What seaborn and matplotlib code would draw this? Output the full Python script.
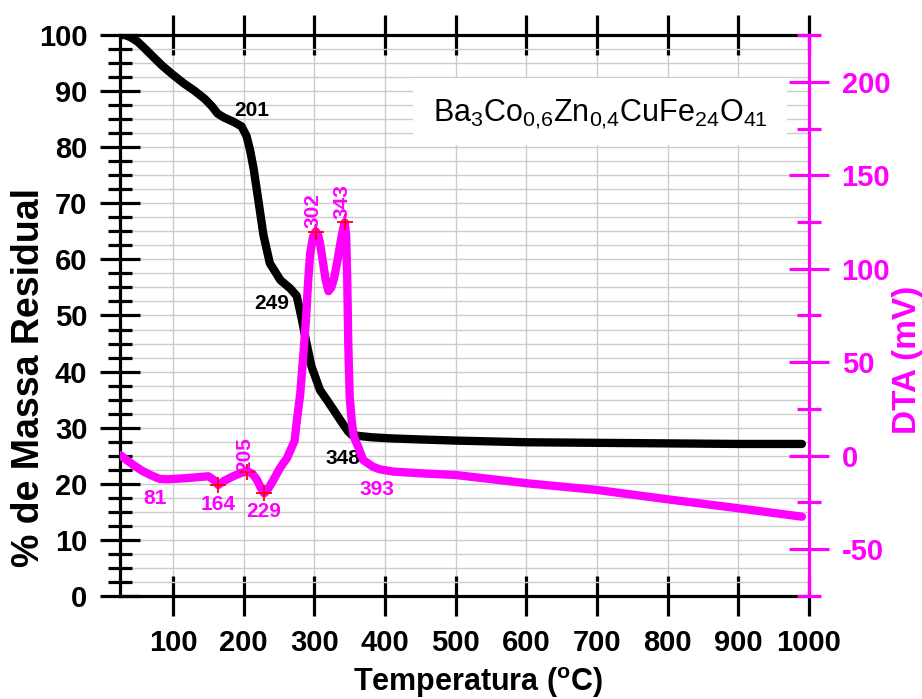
import numpy as np
import pandas as pd
import matplotlib
matplotlib.use("Agg")
import matplotlib.pyplot as plt
from matplotlib.ticker import MultipleLocator, FixedLocator
from matplotlib.patches import Rectangle
import seaborn as sns

# ---------------- data ----------------
tg_temp = [25, 32, 40, 50, 60, 72, 85, 100, 115, 130, 145, 155, 163, 172, 186, 197,
           204, 209, 214, 221, 228, 237, 252, 266, 275, 282, 289, 296, 308, 318, 327,
           337, 343, 348, 353, 365, 380, 407, 450, 500, 600, 700, 800, 900, 990]
tg_mass = [100, 100, 99.6, 98.8, 97.6, 96.1, 94.5, 92.9, 91.4, 90.1, 88.6, 87.3, 86.0,
           85.3, 84.5, 83.7, 82.0, 79.5, 76.2, 70.3, 64.3, 59.3, 56.3, 54.8, 53.5, 49.5,
           45.0, 40.9, 36.7, 34.9, 33.2, 31.3, 30.2, 29.3, 28.7, 28.5, 28.3, 28.1, 27.9,
           27.7, 27.4, 27.3, 27.2, 27.1, 27.1]

dta_temp = [25, 35, 44, 56, 68, 81, 92, 115, 140, 150, 158, 164, 172, 185, 198, 205,
            212, 219, 224, 229, 235, 242, 250, 256, 261, 268, 272, 275, 280, 284, 288,
            291, 294, 298, 302, 305, 308, 312, 316, 320, 324, 328, 333, 337, 340, 343,
            345, 346.5, 348, 350, 353, 356, 362, 369, 383, 393, 412, 450, 500, 600, 700,
            800, 900, 990]
dta_mv = [0.4, -2.5, -5.0, -8.0, -10.3, -12.4, -12.6, -12.1, -11.3, -11.0, -13.0, -15.6,
          -13.5, -11.0, -9.0, -8.5, -9.5, -13.0, -17.0, -20.1, -17.5, -13.0, -7.5, -4.0,
          -1.5, 4.5, 8.0, 18.0, 33.0, 52.0, 72.0, 92.0, 108.0, 117.0, 120.0, 118.5, 113.6,
          104.0, 94.0, 88.0, 90.0, 95.0, 105.0, 114.0, 120.0, 124.8, 118.0, 95.0, 60.0,
          31.6, 18.0, 10.0, 4.8, -2.3, -5.9, -7.3, -8.5, -9.4, -10.3, -14.7, -18.3,
          -23.3, -28.1, -32.6]

peak_temp = [164, 205, 229, 302, 343]
peak_mv = [-15.6, -8.5, -20.0, 119.8, 124.8]

tg_labels = ["201", "249", "348"]
tg_label_pos = [(211.6, 86.6), (239.5, 52.2), (341.0, 24.5)]
dta_labels = ["81", "164", "229", "393"]
dta_label_pos = [(75, -22.8), (164.4, -26.3), (229, -29.9), (388, -18.3)]
dta_vlabels = ["205", "302", "343"]
dta_vlabel_pos = [(202, 0.4), (298.6, 130.9), (338.8, 135.9)]

x_ticks = [100, 200, 300, 400, 500, 600, 700, 800, 900, 1000]
left_ticks = [0, 10, 20, 30, 40, 50, 60, 70, 80, 90, 100]
right_ticks = [-50, 0, 50, 100, 150, 200]
right_minor = [-75, -25, 25, 75, 125, 175, 225]

formula = r"Ba$_{3}$Co$_{0{,}6}$Zn$_{0{,}4}$CuFe$_{24}$O$_{41}$"

MAG = "#ff00ff"

# ---------------- style ----------------
sns.set_theme(style="white")
plt.rcParams["font.family"] = ["Liberation Sans", "DejaVu Sans"]
plt.rcParams["font.weight"] = "bold"
plt.rcParams["mathtext.fontset"] = "custom"
plt.rcParams["mathtext.rm"] = "Liberation Sans"
plt.rcParams["mathtext.it"] = "Liberation Sans:italic"
plt.rcParams["mathtext.bf"] = "Liberation Sans:bold"
plt.rcParams["mathtext.default"] = "regular"
plt.rcParams["axes.unicode_minus"] = False
plt.rcParams["text.color"] = "black"
plt.rcParams["axes.labelcolor"] = "black"
plt.rcParams["axes.edgecolor"] = "black"
plt.rcParams["xtick.color"] = "black"
plt.rcParams["ytick.color"] = "black"

tg_df = pd.DataFrame({"T": tg_temp, "M": tg_mass})
dta_df = pd.DataFrame({"T": dta_temp, "D": dta_mv})
pk_df = pd.DataFrame({"T": peak_temp, "D": peak_mv})

fig = plt.figure(figsize=(9.22, 6.99), dpi=100)
ax = fig.add_axes([0.1302, 0.1474, 0.7472, 0.8025])
ax2 = ax.twinx()

# grid
ax.set_axisbelow(True)
ax.grid(which="major", axis="x", color="#cccccc", lw=1.0)
ax.grid(which="both", axis="y", color="#cccccc", lw=1.0)

sns.lineplot(data=tg_df, x="T", y="M", ax=ax, color="black", lw=6, zorder=3)
sns.lineplot(data=dta_df, x="T", y="D", ax=ax2, color=MAG, lw=6, zorder=3)
sns.scatterplot(data=pk_df, x="T", y="D", ax=ax2, marker="+", color="red",
                s=130, linewidth=1.3, zorder=5)

ax.set_xlim(25, 1000)
ax.set_ylim(0, 100)
ax2.set_ylim(-75, 225)

ax.xaxis.set_major_locator(FixedLocator(x_ticks))
ax.yaxis.set_major_locator(FixedLocator(left_ticks))
ax.yaxis.set_minor_locator(MultipleLocator(2.5))
ax2.yaxis.set_major_locator(FixedLocator(right_ticks))
ax2.yaxis.set_minor_locator(FixedLocator(right_minor))

for s in ["left", "top", "bottom"]:
    ax.spines[s].set_linewidth(2.3)
    ax.spines[s].set_color("black")
ax.spines["right"].set_visible(False)
for s in ["left", "top", "bottom"]:
    ax2.spines[s].set_visible(False)
ax2.spines["right"].set_linewidth(2.3)
ax2.spines["right"].set_color(MAG)

ax.tick_params(axis="x", which="major", direction="inout", length=29, width=2.3,
               top=True, bottom=True, labelsize=21, pad=9)
ax.tick_params(axis="y", which="major", direction="inout", length=29, width=2.3,
               labelsize=21, pad=9)
ax.tick_params(axis="y", which="minor", direction="inout", length=17, width=2.3)
ax2.tick_params(axis="y", which="major", direction="inout", length=29, width=2.3,
                color=MAG, labelcolor=MAG, labelsize=21, pad=9)
ax2.tick_params(axis="y", which="minor", direction="inout", length=17, width=2.3,
                color=MAG)
for lab in ax.get_xticklabels() + ax.get_yticklabels() + ax2.get_yticklabels():
    lab.set_fontweight("bold")

ax.set_xlabel(r"Temperatura ($^{o}$C)", fontsize=22, fontweight="bold", color="black")
ax.set_ylabel("% de Massa Residual", fontsize=27, fontweight="bold", color="black")
ax2.set_ylabel("DTA (mV)", fontsize=24, fontweight="bold", color=MAG)
ax.xaxis.set_label_coords(0.5196, -0.123)
ax.yaxis.set_label_coords(-0.106, 0.39)
ax2.yaxis.set_label_coords(1.12, 0.42)

# annotations
for t, (x, y) in zip(tg_labels, tg_label_pos):
    ax.text(x, y, t, ha="center", va="center", fontsize=15, fontweight="bold",
            color="black", zorder=6)
for t, (x, y) in zip(dta_labels, dta_label_pos):
    ax2.text(x, y, t, ha="center", va="center", fontsize=15, fontweight="bold",
             color=MAG, zorder=6)
for t, (x, y) in zip(dta_vlabels, dta_vlabel_pos):
    ax2.text(x, y, t, ha="center", va="center", rotation=90, fontsize=15,
             fontweight="bold", color=MAG, zorder=6)

# formula box
ax2.add_patch(Rectangle((0.425, 0.804), 0.543, 0.119, transform=ax2.transAxes,
                        facecolor="white", edgecolor="none", zorder=4))
ax2.text(0.697, 0.8467, formula, transform=ax2.transAxes, ha="center",
         va="baseline", fontsize=22, fontweight="normal", color="black", zorder=6)

fig.savefig("out.png", dpi=100)
